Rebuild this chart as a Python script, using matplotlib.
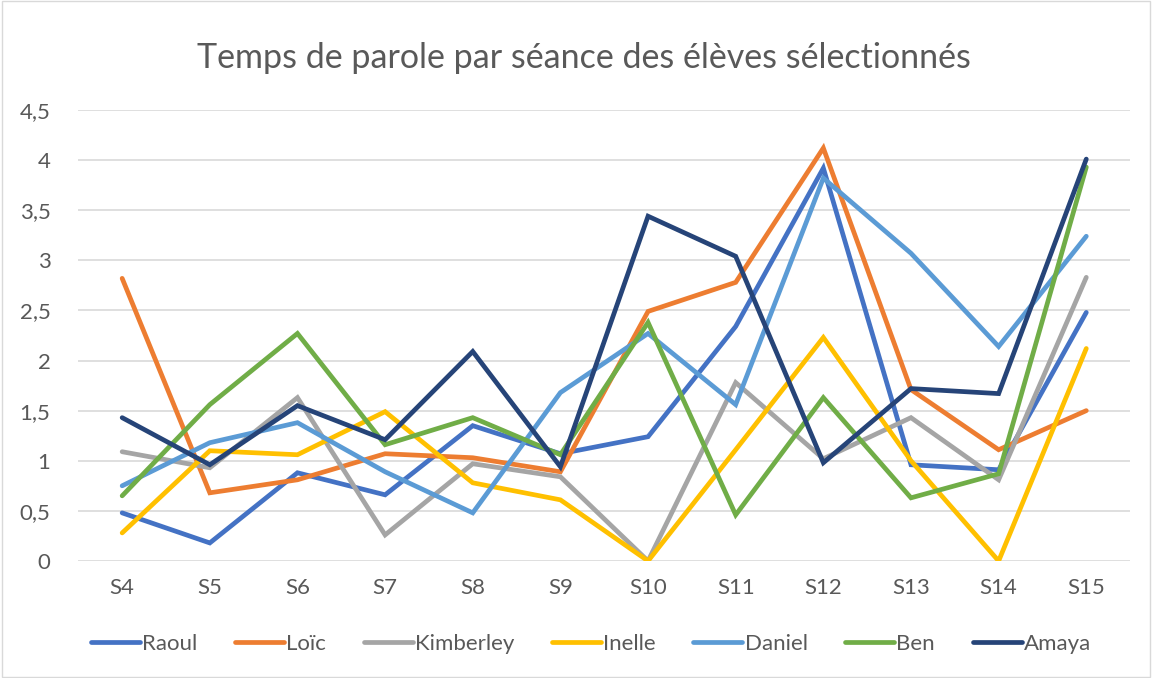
import matplotlib.pyplot as plt
from matplotlib.patches import Rectangle

plt.rcParams['font.family'] = ['Lato', 'DejaVu Sans']

sessions = ['S4', 'S5', 'S6', 'S7', 'S8', 'S9', 'S10', 'S11', 'S12', 'S13', 'S14', 'S15']

raoul = [0.48, 0.18, 0.88, 0.66, 1.35, 1.07, 1.24, 2.34, 3.92, 0.96, 0.91, 2.48]
loic = [2.82, 0.68, 0.81, 1.07, 1.03, 0.89, 2.49, 2.78, 4.12, 1.71, 1.11, 1.5]
kimberley = [1.09, 0.93, 1.63, 0.26, 0.97, 0.84, 0.0, 1.78, 1.02, 1.43, 0.81, 2.83]
inelle = [0.28, 1.1, 1.06, 1.49, 0.78, 0.61, 0.0, 1.11, 2.23, 1.0, 0.0, 2.12]
daniel = [0.75, 1.18, 1.38, 0.89, 0.48, 1.68, 2.27, 1.56, 3.82, 3.07, 2.14, 3.24]
ben = [0.65, 1.56, 2.27, 1.16, 1.43, 1.06, 2.38, 0.46, 1.63, 0.63, 0.87, 3.93]
amaya = [1.43, 0.96, 1.55, 1.21, 2.09, 0.94, 3.44, 3.04, 0.98, 1.72, 1.67, 4.01]

names = ['Raoul', 'Loïc', 'Kimberley', 'Inelle', 'Daniel', 'Ben', 'Amaya']
colors = ['#4472C4', '#ED7D31', '#A5A5A5', '#FFC000', '#5B9BD5', '#70AD47', '#264478']
series = [raoul, loic, kimberley, inelle, daniel, ben, amaya]

yticks = [0, 0.5, 1, 1.5, 2, 2.5, 3, 3.5, 4, 4.5]
ytick_labels = ['0', '0,5', '1', '1,5', '2', '2,5', '3', '3,5', '4', '4,5']

fig = plt.figure(figsize=(11.52, 6.78), dpi=100)
ax = fig.add_axes([0.068, 0.1726, 0.913, 0.6652])

x = list(range(len(sessions)))
for name, col, vals in zip(names, colors, series):
    ax.plot(x, vals, color=col, lw=3.4, label=name, solid_capstyle='round', solid_joinstyle='miter')

ax.set_xlim(-0.5, len(sessions) - 0.5)
ax.set_ylim(0, 4.5)
ax.set_yticks(yticks)
ax.set_yticklabels(ytick_labels)
ax.set_xticks(x)
ax.set_xticklabels(sessions)
ax.tick_params(length=0, labelsize=16, colors='#595959')
ax.tick_params(axis='x', pad=12)
ax.tick_params(axis='y', pad=20)
ax.grid(axis='y', color='#d9d9d9', lw=1.2)
ax.set_axisbelow(True)
for s in ax.spines.values():
    s.set_visible(False)

fig.text(0.507, 0.915, 'Temps de parole par séance des élèves sélectionnés',
         ha='center', va='center', fontsize=24.5, color='#595959')

fig.legend(loc='center', bbox_to_anchor=(0.513, 0.05), ncol=7, frameon=False,
           fontsize=16, handlelength=2.2, columnspacing=1.7, handletextpad=0.1,
           labelcolor='#595959')

fig.patches.append(Rectangle((0.002, 0.002), 0.996, 0.996, transform=fig.transFigure,
                             fill=False, edgecolor='#d9d9d9', lw=1))

fig.savefig('out.png', dpi=100)
